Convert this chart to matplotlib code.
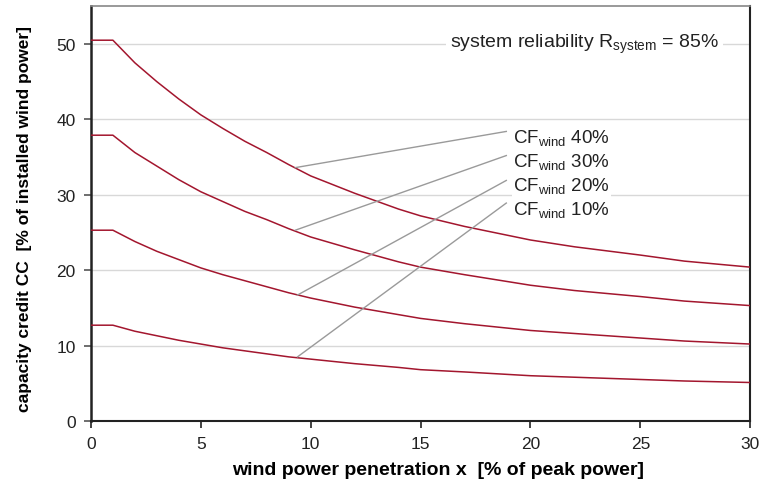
import matplotlib.pyplot as plt

plt.rcParams['font.family'] = ['Liberation Sans', 'DejaVu Sans']

# wind power penetration x [% of peak power]
x = [0, 1, 2, 3, 4, 5, 6, 7, 8, 9, 10, 12, 14, 15, 17, 20, 22, 25, 27, 30]

# capacity credit CC [% of installed wind power]
cc_40 = [50.5, 50.5, 47.5, 45.0, 42.7, 40.6, 38.8, 37.1, 35.6, 34.0, 32.5,
         30.2, 28.1, 27.2, 25.8, 24.0, 23.1, 22.0, 21.2, 20.4]
cc_30 = [37.9, 37.9, 35.6, 33.8, 32.0, 30.4, 29.1, 27.8, 26.7, 25.5, 24.4,
         22.7, 21.1, 20.4, 19.4, 18.0, 17.3, 16.5, 15.9, 15.3]
cc_20 = [25.3, 25.3, 23.8, 22.5, 21.4, 20.3, 19.4, 18.6, 17.8, 17.0, 16.3,
         15.1, 14.1, 13.6, 12.9, 12.0, 11.6, 11.0, 10.6, 10.2]
cc_10 = [12.7, 12.7, 11.9, 11.3, 10.7, 10.2, 9.7, 9.3, 8.9, 8.5, 8.2,
         7.6, 7.1, 6.8, 6.5, 6.0, 5.8, 5.5, 5.3, 5.1]

labels = ['40%', '30%', '20%', '10%']
series = [cc_40, cc_30, cc_20, cc_10]
# where each leader line touches its curve, and where the label sits
leader_start = [(9.3, 33.6), (9.3, 25.3), (9.4, 16.7), (9.4, 8.5)]
leader_end = [(18.9, 38.4), (18.9, 35.2), (18.9, 31.9), (18.9, 28.9)]
label_y = [36.9, 33.7, 30.5, 27.4]

fig, ax = plt.subplots(figsize=(7.64, 4.85), dpi=100)
fig.subplots_adjust(left=0.119, right=0.982, bottom=0.13, top=0.985)

red = '#a3162e'
for cc in series:
    ax.plot(x, cc, color=red, lw=1.1, zorder=3)

for (x0, y0), (x1, y1), lab, ly in zip(leader_start, leader_end, labels, label_y):
    ax.plot([x0, x1], [y0, y1], color='#9a9a9a', lw=1.0, zorder=4)
    ax.text(19.2, ly, r'CF$_{\mathregular{wind}}$ ' + lab, fontsize=13.5,
            va='baseline', ha='left', color='#222222', zorder=5,
            bbox=dict(facecolor='white', edgecolor='none', pad=1))

ax.text(22.45, 49.7, r'system reliability R$_{\mathregular{system}}$ = 85%',
        fontsize=14, ha='center', va='baseline', color='#222222', zorder=5,
        bbox=dict(facecolor='white', edgecolor='none', pad=3))

ax.set_xlim(0, 30)
ax.set_ylim(0, 55)
ax.set_xticks([0, 5, 10, 15, 20, 25, 30])
ax.set_yticks([0, 10, 20, 30, 40, 50])
ax.yaxis.grid(True, color='#d8d8d8', lw=1.0, zorder=0)
ax.set_axisbelow(True)

ax.tick_params(axis='both', labelsize=12.5, colors='#222222', length=5,
               width=1.2, direction='out', pad=6)
ax.tick_params(axis='y', colors='#555555', labelcolor='#222222')

ax.spines['left'].set_linewidth(1.8)
ax.spines['left'].set_color('#222222')
ax.spines['bottom'].set_linewidth(1.5)
ax.spines['bottom'].set_color('#222222')
ax.spines['right'].set_linewidth(1.5)
ax.spines['right'].set_color('#222222')
ax.spines['top'].set_linewidth(1.2)
ax.spines['top'].set_color('#888888')

ax.set_xlabel('wind power penetration x  [% of peak power]', fontsize=14,
              fontweight='bold')
ax.set_ylabel('capacity credit CC  [% of installed wind power]', fontsize=12.5,
              fontweight='bold')
ax.xaxis.set_label_coords(0.527, -0.097)
ax.yaxis.set_label_coords(-0.09, 0.49)

plt.savefig('out.png', dpi=100)
